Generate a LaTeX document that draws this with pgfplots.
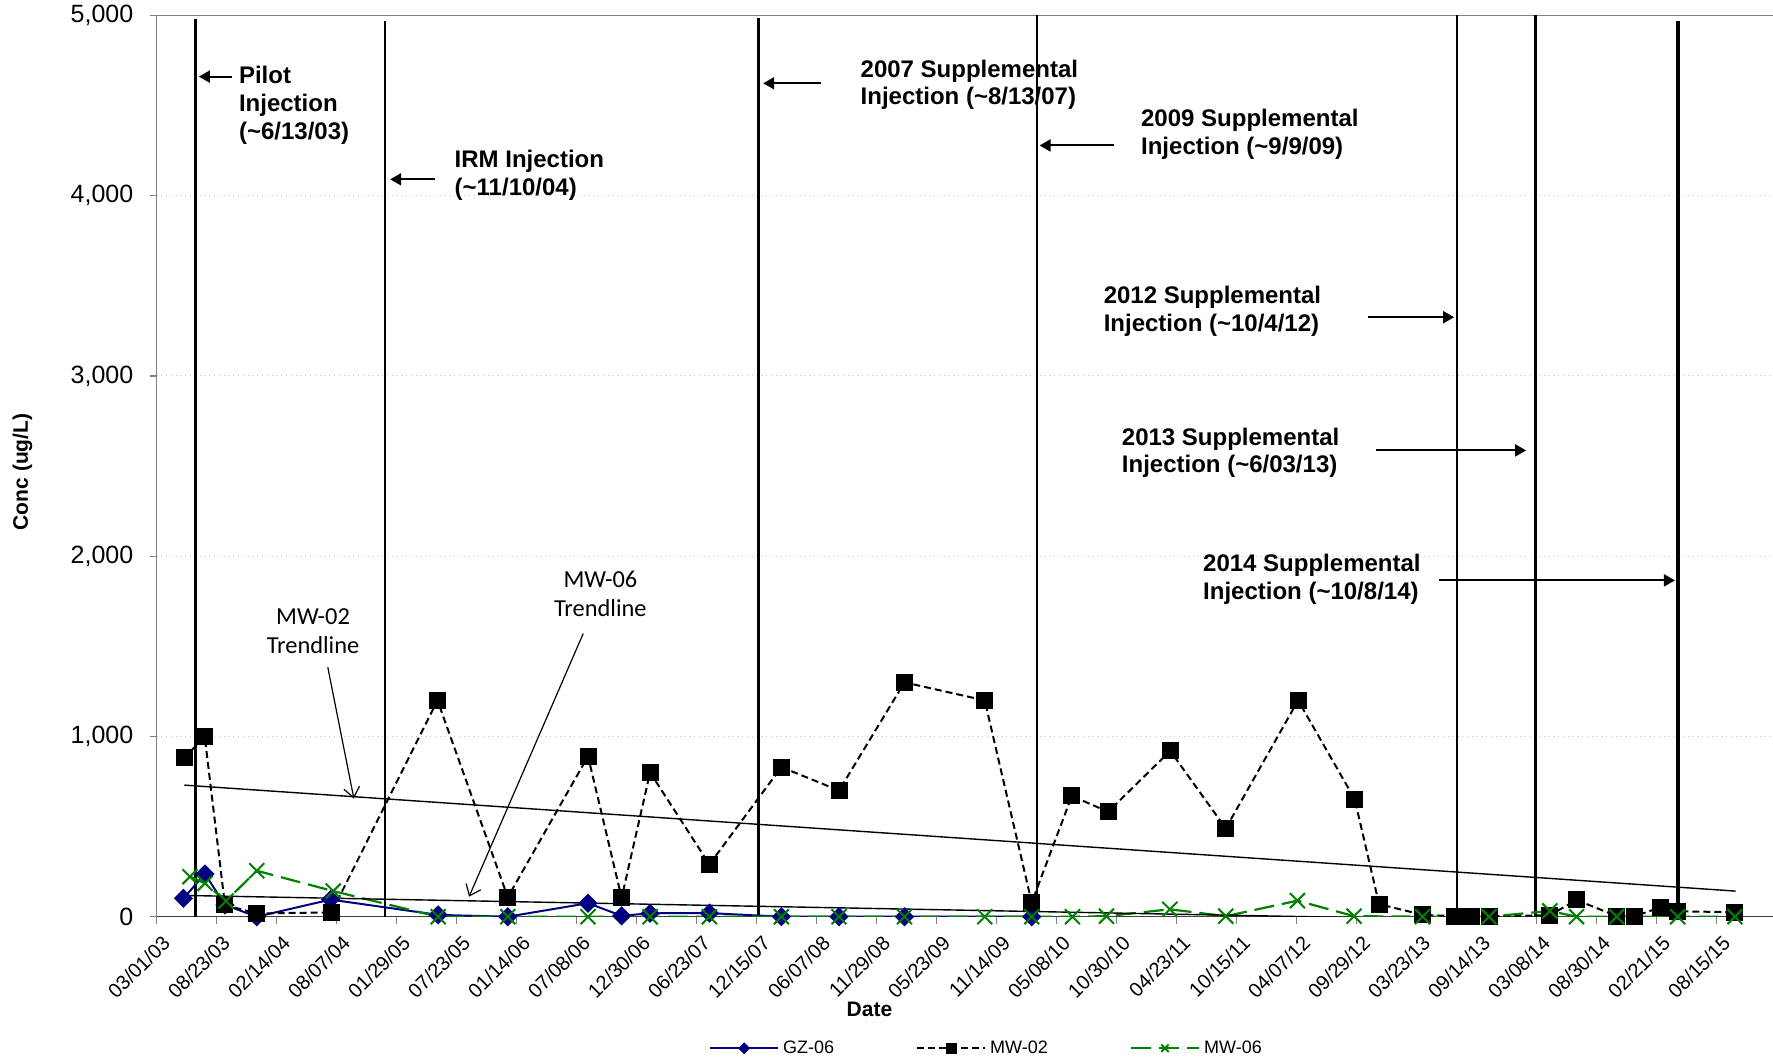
\documentclass[border=0pt]{standalone}
\usepackage{pgfplots}
\pgfplotsset{compat=1.18}
\usepackage{fontspec}
\setmainfont{Liberation Sans}
\newfontfamily\calibri{Carlito}
\usetikzlibrary{arrows.meta}

\definecolor{gznavy}{RGB}{0,0,128}
\definecolor{mwgreen}{RGB}{0,128,0}
\definecolor{framegray}{RGB}{128,128,128}
\definecolor{gridgray}{RGB}{200,200,200}

\newcommand\annotfont{\bfseries\fontsize{12}{13.85}\selectfont}
\newcommand\trendfont{\calibri\fontsize{12.2}{14.7}\selectfont}

% x = days since 03/01/2003, y = concentration (ug/L)
\pgfplotstableread{
day conc
78 102
141 237
199 65
292 0
507 95
821 10
1024 0
1258 75
1356 5
1439 19
1612 20
1822 0
1990 0
2181 0
2552 0
}\gzsix

\pgfplotstableread{
day conc
81 882
140 1000
199 65
292 18
510 24
819 1200
1024 108
1258 890
1356 105
1439 800
1612 290
1822 830
1990 700
2181 1300
2415 1200
2552 78
2669 670
2775 582
2956 920
3118 490
3329 1200
3494 652
3565 70
3692 10
3786 3
3835 3
3886 3
4063 8
4141 93
4258 3
4311 3
4386 52
4436 30
4603 25
}\mwtwo

\pgfplotstableread{
day conc
97 222
141 185
202 87
292 255
515 142
821 0
1024 0
1258 0
1439 0
1612 0
1822 0
1990 0
2181 0
2415 0
2552 0
2671 0
2770 3
2955 41
3118 3
3327 89
3492 3
3692 0
3886 0
4063 32
4141 0
4258 0
4436 0
4603 0
}\mwsix

\begin{document}
\begin{tikzpicture}
\useasboundingbox (-78.35pt,-72.15pt) rectangle (808.15pt,458.35pt);
\begin{axis}[
  scale only axis,
  width=808.15pt, height=450.6pt,
  xmin=0, xmax=4714,
  ymin=0, ymax=5000,
  axis x line*=bottom, axis y line*=left,
  x axis line style={black!75, line width=0.7pt},
  y axis line style={framegray, line width=0.7pt},
  tick align=outside,
  major tick length=3.5pt,
  tick style={framegray, line width=0.6pt},
  xtick={0,175,...,4550},
  xticklabels={03/01/03,08/23/03,02/14/04,08/07/04,01/29/05,07/23/05,01/14/06,07/08/06,12/30/06,06/23/07,12/15/07,06/07/08,11/29/08,05/23/09,11/14/09,05/08/10,10/30/10,04/23/11,10/15/11,04/07/12,09/29/12,03/23/13,09/14/13,03/08/14,08/30/14,02/21/15,08/15/15},
  xticklabel style={rotate=45, anchor=east, inner sep=0pt, font=\fontsize{10}{12}\selectfont, xshift=-2pt, yshift=-9pt},
  ytick={0,1000,...,5000},
  yticklabels={0,{1,000},{2,000},{3,000},{4,000},{5,000}},
  yticklabel style={anchor=east, inner sep=0pt, font=\fontsize{12.5}{14}\selectfont, xshift=-8pt},
  ymajorgrids,
  major grid style={gridgray, dotted, line width=0.5pt},
  xlabel={Date},
  xlabel style={at={(axis description cs:0.441,-0.103)}, anchor=center, font=\bfseries\fontsize{10.5}{12}\selectfont},
  ylabel={Conc (ug/L)},
  ylabel style={at={(axis description cs:-0.083,0.4936)}, anchor=center, rotate=0, font=\bfseries\fontsize{10.5}{12}\selectfont},
  legend columns=3,
  legend style={at={(axis description cs:0.514,-0.146)}, anchor=center, draw=none, fill=none,
    font=\fontsize{9}{11}\selectfont,
    /tikz/every even column/.append style={column sep=39pt}},
  legend image code/.code={\draw[mark repeat=2, mark phase=2, #1] plot coordinates {(0pt,0pt) (17pt,0pt) (34pt,0pt)};},
]

% top border of the plot area
\draw[framegray, line width=1pt] (rel axis cs:0,1) -- (rel axis cs:1,1);

% injection event lines
\addplot[black, line width=1.5pt, forget plot] coordinates {(112,0) (112,4981)};
\addplot[black, line width=1.25pt, forget plot] coordinates {(666,0) (666,4969)};
\addplot[black, line width=1.5pt, forget plot] coordinates {(1756,0) (1756,4987)};
\addplot[black, line width=0.8pt, forget plot] coordinates {(2567,0) (2567,5000)};
\addplot[black, line width=1.25pt, forget plot] coordinates {(3793,0) (3793,5000)};
\addplot[black, line width=1.6pt, forget plot] coordinates {(4022,0) (4022,5000)};
\addplot[black, line width=1.6pt, forget plot] coordinates {(4437,-40) (4437,4969)};

% monitoring series
\addplot[gznavy, line width=1pt, mark=square*, mark size=2.9pt, mark options={rotate=45, solid, fill=gznavy},
  legend image post style={mark size=1.6pt}] table[x=day, y=conc] {\gzsix};
\addlegendentry{GZ-06}
\addplot[black, line width=1pt, dash pattern=on 3.5pt off 2pt, mark=square*, mark size=3.75pt, mark options={solid, fill=black},
  legend image post style={mark size=2.2pt}] table[x=day, y=conc] {\mwtwo};
\addlegendentry{MW-02}
\addplot[mwgreen, line width=1.1pt, dash pattern=on 10pt off 4pt, mark=x, mark size=5.3pt, mark options={solid, line width=1pt},
  legend image post style={mark size=2.6pt}] table[x=day, y=conc] {\mwsix};
\addlegendentry{MW-06}

% linear trendlines
\addplot[black, line width=0.7pt, forget plot] coordinates {(81,730) (4605,142)};
\addplot[black, line width=0.7pt, forget plot] coordinates {(81,118) (4605,-45)};

% injection annotations
\tikzset{injarrow/.style={black, line width=1pt, -{Triangle[length=5.5pt, width=6pt]}}}
\draw[injarrow] (axis cs:219,4661) -- (axis cs:123,4661);
\draw[injarrow] (axis cs:813,4091) -- (axis cs:681,4091);
\draw[injarrow] (axis cs:1937,4624) -- (axis cs:1769,4624);
\draw[injarrow] (axis cs:2791,4279) -- (axis cs:2575,4279);
\draw[injarrow] (axis cs:3533,3326) -- (axis cs:3784,3326);
\draw[injarrow] (axis cs:3556,2587) -- (axis cs:3994,2587);
\draw[injarrow] (axis cs:3741,1866) -- (axis cs:4428,1866);

\tikzset{annot/.style={anchor=west, align=left, inner sep=0pt, font=\annotfont}}
\node[annot] at (axis cs:239,4502) {Pilot\\Injection\\(\textasciitilde6/13/03)};
\node[annot] at (axis cs:868,4113) {IRM Injection\\(\textasciitilde11/10/04)};
\node[annot] at (axis cs:2052,4615) {2007 Supplemental\\Injection (\textasciitilde8/13/07)};
\node[annot] at (axis cs:2870,4342) {2009 Supplemental\\Injection (\textasciitilde9/9/09)};
\node[annot] at (axis cs:2761,3358) {2012 Supplemental\\Injection (\textasciitilde10/4/12)};
\node[annot] at (axis cs:2814,2574) {2013 Supplemental\\Injection (\textasciitilde6/03/13)};
\node[annot] at (axis cs:3051,1872) {2014 Supplemental\\Injection (\textasciitilde10/8/14)};

% trendline callouts
\tikzset{trendarrow/.style={black, line width=0.6pt, -{Straight Barb[length=5pt, width=8pt]}}}
\node[align=center, inner sep=0pt, font=\trendfont] at (axis cs:456,1584) {MW-02\\Trendline};
\draw[trendarrow] (axis cs:499,1384) -- (axis cs:575,656);
\node[align=center, inner sep=0pt, font=\trendfont] at (axis cs:1294,1791) {MW-06\\Trendline};
\draw[trendarrow] (axis cs:1244,1571) -- (axis cs:911,111);
\end{axis}
\end{tikzpicture}
\end{document}
